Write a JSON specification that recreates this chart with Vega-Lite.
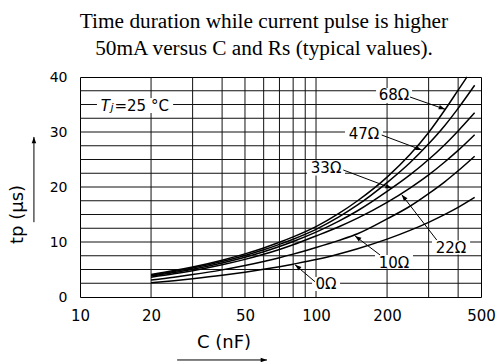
{
  "$schema": "https://vega.github.io/schema/vega-lite/v6.json",
  "width": 401,
  "height": 220,
  "autosize": {"type": "none"},
  "padding": {"left": 80, "top": 77, "right": 15, "bottom": 65},
  "background": "white",
  "config": {"view": {"stroke": "#000", "strokeWidth": 1}, "font": "DejaVu Sans"},
  "title": {
    "text": ["Time duration while current pulse is higher", "50mA versus C and Rs (typical values)."],
    "font": "Liberation Serif", "fontSize": 21.3, "fontWeight": "normal", "color": "#000",
    "anchor": "middle", "frame": "group", "dx": -16.5, "dy": 28, "lineHeight": 27, "baseline": "bottom", "offset": 18
  },
  "datasets": {
    "gridx": [{"C": 20}, {"C": 30}, {"C": 40}, {"C": 50}, {"C": 60}, {"C": 70}, {"C": 80}, {"C": 90}, {"C": 100}, {"C": 200}, {"C": 300}, {"C": 400}],
    "gridy": [{"t": 2.5}, {"t": 5}, {"t": 7.5}, {"t": 10}, {"t": 12.5}, {"t": 15}, {"t": 17.5}, {"t": 20}, {"t": 22.5}, {"t": 25}, {"t": 27.5}, {"t": 30}, {"t": 32.5}, {"t": 35}, {"t": 37.5}],
    "curves": [
      {"R": "0Ω", "C": 20, "t": 2.6}, {"R": "0Ω", "C": 25, "t": 2.97}, {"R": "0Ω", "C": 30, "t": 3.32}, {"R": "0Ω", "C": 40, "t": 3.94}, {"R": "0Ω", "C": 50, "t": 4.51}, {"R": "0Ω", "C": 60, "t": 5.03}, {"R": "0Ω", "C": 70, "t": 5.51}, {"R": "0Ω", "C": 80, "t": 5.97}, {"R": "0Ω", "C": 100, "t": 6.8}, {"R": "0Ω", "C": 125, "t": 7.83}, {"R": "0Ω", "C": 150, "t": 8.78}, {"R": "0Ω", "C": 200, "t": 10.52}, {"R": "0Ω", "C": 250, "t": 12.11}, {"R": "0Ω", "C": 300, "t": 13.58}, {"R": "0Ω", "C": 350, "t": 14.97}, {"R": "0Ω", "C": 400, "t": 16.29}, {"R": "0Ω", "C": 470, "t": 18.1},
      {"R": "10Ω", "C": 20, "t": 3.1}, {"R": "10Ω", "C": 25, "t": 3.6}, {"R": "10Ω", "C": 30, "t": 4.07}, {"R": "10Ω", "C": 40, "t": 4.93}, {"R": "10Ω", "C": 50, "t": 5.73}, {"R": "10Ω", "C": 60, "t": 6.47}, {"R": "10Ω", "C": 70, "t": 7.15}, {"R": "10Ω", "C": 80, "t": 7.8}, {"R": "10Ω", "C": 100, "t": 9.0}, {"R": "10Ω", "C": 125, "t": 10.3}, {"R": "10Ω", "C": 150, "t": 11.5}, {"R": "10Ω", "C": 200, "t": 14.2}, {"R": "10Ω", "C": 250, "t": 16.5}, {"R": "10Ω", "C": 300, "t": 18.8}, {"R": "10Ω", "C": 350, "t": 20.9}, {"R": "10Ω", "C": 400, "t": 22.95}, {"R": "10Ω", "C": 470, "t": 25.6},
      {"R": "22Ω", "C": 20, "t": 3.6}, {"R": "22Ω", "C": 25, "t": 4.21}, {"R": "22Ω", "C": 30, "t": 4.78}, {"R": "22Ω", "C": 40, "t": 5.85}, {"R": "22Ω", "C": 50, "t": 6.84}, {"R": "22Ω", "C": 60, "t": 7.77}, {"R": "22Ω", "C": 70, "t": 8.65}, {"R": "22Ω", "C": 80, "t": 9.5}, {"R": "22Ω", "C": 100, "t": 11.1}, {"R": "22Ω", "C": 125, "t": 12.78}, {"R": "22Ω", "C": 150, "t": 14.34}, {"R": "22Ω", "C": 200, "t": 17.2}, {"R": "22Ω", "C": 250, "t": 19.8}, {"R": "22Ω", "C": 300, "t": 22.2}, {"R": "22Ω", "C": 350, "t": 24.5}, {"R": "22Ω", "C": 400, "t": 26.65}, {"R": "22Ω", "C": 470, "t": 29.5},
      {"R": "33Ω", "C": 20, "t": 3.8}, {"R": "33Ω", "C": 25, "t": 4.45}, {"R": "33Ω", "C": 30, "t": 5.05}, {"R": "33Ω", "C": 40, "t": 6.19}, {"R": "33Ω", "C": 50, "t": 7.24}, {"R": "33Ω", "C": 60, "t": 8.23}, {"R": "33Ω", "C": 70, "t": 9.18}, {"R": "33Ω", "C": 80, "t": 10.09}, {"R": "33Ω", "C": 100, "t": 11.8}, {"R": "33Ω", "C": 125, "t": 13.8}, {"R": "33Ω", "C": 150, "t": 15.68}, {"R": "33Ω", "C": 200, "t": 19.2}, {"R": "33Ω", "C": 250, "t": 22.2}, {"R": "33Ω", "C": 300, "t": 25.0}, {"R": "33Ω", "C": 350, "t": 27.65}, {"R": "33Ω", "C": 400, "t": 30.2}, {"R": "33Ω", "C": 470, "t": 33.5},
      {"R": "47Ω", "C": 20, "t": 3.95}, {"R": "47Ω", "C": 25, "t": 4.62}, {"R": "47Ω", "C": 30, "t": 5.26}, {"R": "47Ω", "C": 40, "t": 6.44}, {"R": "47Ω", "C": 50, "t": 7.54}, {"R": "47Ω", "C": 60, "t": 8.58}, {"R": "47Ω", "C": 70, "t": 9.57}, {"R": "47Ω", "C": 80, "t": 10.51}, {"R": "47Ω", "C": 100, "t": 12.3}, {"R": "47Ω", "C": 125, "t": 14.56}, {"R": "47Ω", "C": 150, "t": 16.73}, {"R": "47Ω", "C": 200, "t": 20.8}, {"R": "47Ω", "C": 250, "t": 24.4}, {"R": "47Ω", "C": 300, "t": 27.85}, {"R": "47Ω", "C": 350, "t": 31.1}, {"R": "47Ω", "C": 400, "t": 34.3}, {"R": "47Ω", "C": 470, "t": 38.5},
      {"R": "68Ω", "C": 20, "t": 4.1}, {"R": "68Ω", "C": 25, "t": 4.8}, {"R": "68Ω", "C": 30, "t": 5.46}, {"R": "68Ω", "C": 40, "t": 6.7}, {"R": "68Ω", "C": 50, "t": 7.84}, {"R": "68Ω", "C": 60, "t": 8.92}, {"R": "68Ω", "C": 70, "t": 9.95}, {"R": "68Ω", "C": 80, "t": 10.93}, {"R": "68Ω", "C": 100, "t": 12.8}, {"R": "68Ω", "C": 125, "t": 15.2}, {"R": "68Ω", "C": 150, "t": 17.5}, {"R": "68Ω", "C": 200, "t": 21.8}, {"R": "68Ω", "C": 250, "t": 25.9}, {"R": "68Ω", "C": 300, "t": 29.9}, {"R": "68Ω", "C": 350, "t": 33.9}, {"R": "68Ω", "C": 400, "t": 37.6}, {"R": "68Ω", "C": 436, "t": 40}
    ],
    "boxes": [
      {"C": 179.6, "C2": 255.2, "t": 38.0, "t2": 35.27},
      {"C": 132.7, "C2": 192.2, "t": 31.0, "t2": 28.27},
      {"C": 91.6, "C2": 132.7, "t": 24.82, "t2": 22.09},
      {"C": 310.0, "C2": 449.4, "t": 10.27, "t2": 7.73},
      {"C": 177.8, "C2": 257.6, "t": 7.64, "t2": 5.18},
      {"C": 96.2, "C2": 126.4, "t": 3.64, "t2": 1.09},
      {"C": 11.8, "C2": 24.8, "t": 36.18, "t2": 33.45}
    ],
    "labels": [
      {"label": "68Ω", "C": 214.1, "t": 36.64}, {"label": "47Ω", "C": 159.7, "t": 29.64}, {"label": "33Ω", "C": 110.3, "t": 23.45},
      {"label": "22Ω", "C": 373.3, "t": 8.82}, {"label": "10Ω", "C": 214.1, "t": 6.27}, {"label": "0Ω", "C": 110.3, "t": 2.36}
    ],
    "tj": [
      {"piece": "T", "C": 12.24, "t": 33.87}, {"piece": "j", "C": 13.47, "t": 33.87}, {"piece": "=25 °C", "C": 14.0, "t": 33.87}
    ],
    "arrows": [
      {"C": 250.2, "t": 36.36, "C2": 352.1, "t2": 34.13, "angle": 19.4},
      {"C": 189.8, "t": 29.45, "C2": 280.5, "t2": 26.73, "angle": 20.6},
      {"C": 130.5, "t": 23.09, "C2": 209.4, "t2": 19.76, "angle": 20.7},
      {"C": 324.7, "t": 10.36, "C2": 230.8, "t2": 18.6, "angle": 231.5},
      {"C": 186.7, "t": 7.64, "C2": 146.3, "t2": 11.1, "angle": 216.2},
      {"C": 99.0, "t": 2.78, "C2": 81.5, "t2": 5.85, "angle": 218.7},
      {"C": 25.8, "t": -11.45, "C2": 62.0, "t2": -11.45, "angle": 0},
      {"C": 6.38, "t": 13.6, "C2": 6.38, "t2": 29.1, "angle": 270}
    ]
  },
  "layer": [
    {
      "data": {"name": "curves"},
      "mark": {"type": "line", "interpolate": "monotone", "color": "#000", "strokeWidth": 1.5, "opacity": 0},
      "encoding": {
        "x": {
          "field": "C", "type": "quantitative",
          "scale": {"type": "log", "domain": [10, 500], "nice": false},
          "axis": {
            "values": [10, 20, 50, 100, 200, 500],
            "format": "d", "grid": false,
            "ticks": false, "domain": false, "labelFlush": false, "labelOverlap": false, "labelBound": false,
            "labelPadding": 11, "labelFont": "DejaVu Sans", "labelFontSize": 15, "labelColor": "#000", "labelBaseline": "top",
            "title": "C (nF)", "titleFont": "DejaVu Sans", "titleFontSize": 18, "titleFontWeight": "normal", "titleColor": "#000",
            "titleX": 143.5, "titleY": 50, "titleAlign": "center", "titleBaseline": "alphabetic"
          }
        },
        "y": {
          "field": "t", "type": "quantitative",
          "scale": {"domain": [0, 40], "nice": false, "zero": false},
          "axis": {
            "values": [0, 5, 10, 15, 20, 25, 30, 35, 40],
            "grid": false,
            "ticks": false, "domain": false, "labelFlush": false, "labelOverlap": false, "labelBound": false,
            "labelPadding": 13, "labelFont": "DejaVu Sans", "labelFontSize": 14, "labelColor": "#000",
            "title": "tp (µs)", "titleFont": "DejaVu Sans", "titleFontSize": 18, "titleFontWeight": "normal", "titleColor": "#000",
            "titleX": -58, "titleY": 137, "titleAngle": 270, "titleAlign": "center", "titleBaseline": "alphabetic"
          }
        },
        "detail": {"field": "R", "type": "nominal"}
      }
    },
    {
      "data": {"name": "gridx"},
      "mark": {"type": "rule", "color": "#111", "strokeWidth": 1},
      "encoding": {"x": {"field": "C", "type": "quantitative"}}
    },
    {
      "data": {"name": "gridy"},
      "mark": {"type": "rule", "color": "#111", "strokeWidth": 1},
      "encoding": {"y": {"field": "t", "type": "quantitative"}}
    },
    {
      "data": {"name": "curves"},
      "mark": {"type": "line", "interpolate": "monotone", "color": "#000", "strokeWidth": 1.5},
      "encoding": {
        "x": {"field": "C", "type": "quantitative"},
        "y": {"field": "t", "type": "quantitative"},
        "detail": {"field": "R", "type": "nominal"}
      }
    },
    {
      "data": {"name": "boxes"},
      "mark": {"type": "rect", "fill": "white", "stroke": null},
      "encoding": {
        "x": {"field": "C", "type": "quantitative"},
        "x2": {"field": "C2"},
        "y": {"field": "t", "type": "quantitative"},
        "y2": {"field": "t2"}
      }
    },
    {
      "data": {"name": "arrows"},
      "mark": {"type": "rule", "color": "#000", "strokeWidth": 1},
      "encoding": {
        "x": {"field": "C", "type": "quantitative"},
        "y": {"field": "t", "type": "quantitative"},
        "x2": {"field": "C2"},
        "y2": {"field": "t2"}
      }
    },
    {
      "data": {"name": "arrows"},
      "mark": {"type": "point", "shape": "M0,0L-1,-0.36L-1,0.36Z", "filled": true, "color": "#000", "opacity": 1, "size": 160},
      "encoding": {
        "x": {"field": "C2", "type": "quantitative"},
        "y": {"field": "t2", "type": "quantitative"},
        "angle": {"field": "angle", "type": "quantitative", "scale": null}
      }
    },
    {
      "data": {"name": "labels"},
      "mark": {"type": "text", "font": "DejaVu Sans", "fontSize": 15, "color": "#000", "align": "center", "baseline": "middle"},
      "encoding": {
        "x": {"field": "C", "type": "quantitative"},
        "y": {"field": "t", "type": "quantitative"},
        "text": {"field": "label"}
      }
    },
    {
      "data": {"name": "tj"},
      "transform": [{"filter": "datum.piece == 'T'"}],
      "mark": {"type": "text", "font": "DejaVu Sans", "fontSize": 15, "fontStyle": "italic", "color": "#000", "align": "left", "baseline": "alphabetic"},
      "encoding": {
        "x": {"field": "C", "type": "quantitative"},
        "y": {"field": "t", "type": "quantitative"},
        "text": {"field": "piece"}
      }
    },
    {
      "data": {"name": "tj"},
      "transform": [{"filter": "datum.piece == 'j'"}],
      "mark": {"type": "text", "font": "DejaVu Sans", "fontSize": 11, "fontStyle": "italic", "color": "#000", "align": "left", "baseline": "alphabetic"},
      "encoding": {
        "x": {"field": "C", "type": "quantitative"},
        "y": {"field": "t", "type": "quantitative"},
        "text": {"field": "piece"}
      }
    },
    {
      "data": {"name": "tj"},
      "transform": [{"filter": "datum.piece == '=25 °C'"}],
      "mark": {"type": "text", "font": "DejaVu Sans", "fontSize": 15, "color": "#000", "align": "left", "baseline": "alphabetic"},
      "encoding": {
        "x": {"field": "C", "type": "quantitative"},
        "y": {"field": "t", "type": "quantitative"},
        "text": {"field": "piece"}
      }
    }
  ]
}
